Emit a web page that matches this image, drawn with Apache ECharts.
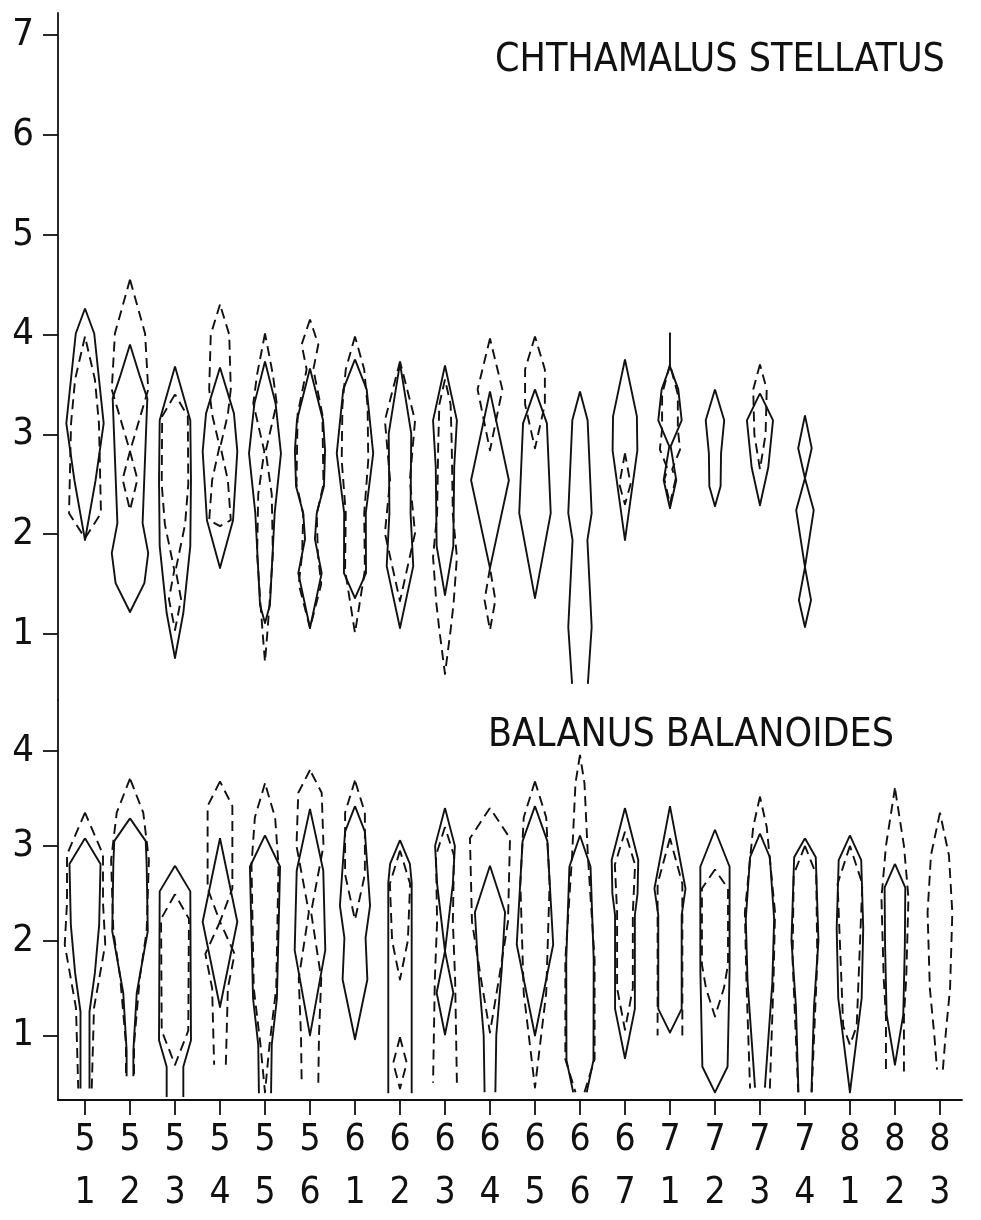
<!DOCTYPE html>
<html><head><meta charset="utf-8">
<script src="https://cdn.jsdelivr.net/npm/echarts@6/dist/echarts.min.js"></script>
<style>html,body{margin:0;padding:0;background:#fff}#c{width:981px;height:1220px}</style>
</head><body><div id="c"></div><script>
// sampling occasions (year digit over month digit)
const samples = ['51','52','53','54','55','56','61','62','63','64','65','66','67','71','72','73','74','81','82','83'];
const yTicksUpper = [1,2,3,4,5,6,7];
const yTicksLower = [1,2,3,4];
const titleUpper = 'CHTHAMALUS STELLATUS';
const titleLower = 'BALANUS BALANOIDES';

// Each column: list of kite pieces; each piece: [shore level, abundance] from top to bottom.
// A piece whose last abundance is > 0 is open at the bottom.
const chthSolid = [
  [[[4.26,0],[4.01,4.1],[3.11,8.3],[2.54,4.7],[1.94,0]]],
  [[[3.90,0],[3.58,4.4],[3.36,7.7],[2.11,5.6],[1.81,8.1],[1.51,6.4],[1.22,0]]],
  [[[3.68,0],[3.14,6.8],[2.54,7.1],[1.88,6.8],[1.21,3.7],[0.76,0]]],
  [[[3.67,0],[3.21,6.2],[2.83,7.7],[2.14,5.8],[1.66,0]]],
  [[[3.73,0],[3.31,4.7],[2.81,7.1],[2.21,4.3],[1.29,2.2],[1.11,0]]],
  [[[3.66,0],[3.14,5.8],[2.84,6.7],[2.48,6.2],[2.21,3.0],[1.95,2.2],[1.61,5.2],[1.06,0]]],
  [[[3.75,0],[3.45,5.2],[2.81,8.1],[2.21,4.8],[1.61,4.9],[1.36,0]]],
  [[[3.71,0],[3.01,5.0],[2.21,4.7],[1.68,5.9],[1.06,0]]],
  [[[3.69,0],[3.14,5.3],[2.67,4.1],[1.88,3.7],[1.39,0]]],
  [[[3.43,0],[2.54,8.4],[1.66,0]]],
  [[[3.45,0],[3.11,5.3],[2.21,7.0],[1.36,0]]],
  [[[3.43,0],[3.14,3.4],[2.21,5.2],[1.94,3.3],[1.07,5.2],[0.50,3.5]]],
  [[[3.75,0],[3.18,5.3],[2.84,5.5],[1.94,0]]],
  [[[4.02,0],[3.68,0],[3.45,3.7],[3.14,5.2],[2.88,0.3],[2.54,2.8],[2.26,0]]],
  [[[3.45,0],[3.14,4.1],[2.81,2.7],[2.48,2.5],[2.28,0]]],
  [[[3.41,0],[3.14,5.8],[2.67,3.7],[2.29,0]]],
  [[[3.19,0],[2.86,3.0],[2.56,0],[2.24,3.9],[1.67,0],[1.34,2.7],[1.07,0]]],
  [], [], []
];
const chthDashed = [
  [[[3.98,0],[3.55,4.4],[3.11,6.2],[2.21,7.1],[1.96,0]]],
  [[[4.55,0],[4.01,6.7],[3.45,8.1],[2.83,0],[2.55,3.3],[2.24,0]]],
  [[[3.40,0],[3.18,5.7],[2.50,5.9],[2.10,4.5],[1.64,0.3],[1.35,2.7],[1.04,0]]],
  [[[4.30,0],[4.00,4.1],[3.45,4.8],[3.20,3.5],[2.88,0.2],[2.54,3.5],[2.14,4.8],[2.08,0]]],
  [[[4.01,0],[3.60,3.5],[3.31,5.2],[2.83,0.3],[2.40,3.0],[1.80,3.5],[1.30,2.0],[1.00,1.0],[0.72,0]]],
  [[[4.15,0],[3.90,3.7],[3.65,1.5],[3.20,5.5],[2.50,6.0],[2.20,3.0],[1.80,3.5],[1.50,5.0],[1.06,0]]],
  [[[3.98,0],[3.65,4.1],[3.28,5.6],[2.74,5.9],[2.21,4.1],[1.64,4.4],[1.01,0]]],
  [[[3.73,0],[3.14,6.7],[2.54,4.4],[2.01,6.7],[1.33,0]]],
  [[[3.55,0],[3.30,2.5],[2.90,3.0],[2.20,3.5],[1.77,5.3],[1.30,3.8],[1.04,2.5],[0.60,0]]],
  [[[3.96,0],[3.45,5.5],[2.84,0]], [[1.66,0],[1.34,2.4],[1.04,0]]],
  [[[3.98,0],[3.65,4.4],[3.30,4.4],[2.86,0]]],
  [],
  [[[2.81,0],[2.50,2.5],[2.30,0]]],
  [[[3.70,0],[3.40,3.5],[3.05,3.5],[2.85,4.5],[2.65,1.0],[2.55,2.5],[2.30,0]]],
  [],
  [[[3.70,0],[3.45,3.0],[3.00,2.5],[2.65,0]]],
  [], [], [], []
];
const balSolid = [
  [[[3.08,0],[2.81,6.9],[2.17,6.3],[1.66,4.4],[1.25,2.0],[0.44,2.0]]],
  [[[3.29,0],[3.05,7.0],[2.81,7.4],[2.10,7.9],[1.45,3.0],[0.84,1.5],[0.57,1.5]]],
  [[[2.79,0],[2.52,6.8],[0.95,7.1],[0.67,3.7],[0.35,3.7]]],
  [[[3.08,0],[2.20,7.7],[1.30,0]]],
  [[[3.11,0],[2.78,6.7],[1.39,5.3],[0.90,3.0],[0.39,2.7]]],
  [[[3.39,0],[2.74,5.9],[1.90,6.8],[1.00,0]]],
  [[[3.42,0],[3.15,4.4],[2.37,6.7],[2.03,4.7],[1.59,5.5],[0.96,0]]],
  [[[3.06,0],[2.81,4.4],[2.61,5.2],[0.39,5.2]]],
  [[[3.40,0],[3.00,4.4],[2.60,3.5],[1.89,0],[1.45,3.7],[1.01,0]]],
  [[[2.79,0],[2.30,6.7],[1.69,5.2],[1.00,2.8],[0.40,2.4]]],
  [[[3.42,0],[3.05,5.5],[1.96,8.1],[1.00,0]]],
  [[[3.11,0],[2.78,4.7],[1.80,6.1],[0.74,6.0],[0.40,3.0]]],
  [[[3.40,0],[2.85,5.9],[2.50,5.6],[2.27,4.4],[1.28,4.4],[0.76,0]]],
  [[[3.42,0],[2.55,6.9],[2.27,5.2],[1.28,5.2],[1.03,0]]],
  [[[3.17,0],[2.78,6.5],[1.69,6.5],[0.67,5.6],[0.40,0]]],
  [[[3.13,0],[2.88,4.4],[2.23,6.3],[1.56,5.5],[0.45,2.2]]],
  [[[3.08,0],[2.88,4.8],[2.00,6.0],[1.30,4.0],[0.40,2.9]]],
  [[[3.11,0],[2.85,5.0],[2.13,5.9],[1.39,5.2],[0.40,0]]],
  [[[2.81,0],[2.56,4.6],[1.96,4.4],[1.22,3.7],[0.69,0]]],
  []
];
const balDashed = [
  [[[3.35,0],[2.91,8.0],[2.40,8.0],[1.96,9.0],[1.29,4.0],[0.44,3.0]]],
  [[[3.71,0],[3.35,5.9],[2.85,8.4],[2.10,7.4],[1.62,4.4],[0.91,1.8],[0.59,1.8]]],
  [[[2.49,0],[2.23,6.2],[1.05,5.9],[0.69,0]]],
  [[[3.68,0],[3.42,5.5],[2.55,5.5],[2.20,0],[1.86,6.5],[1.50,3.5],[0.69,2.6]]],
  [[[3.66,0],[3.30,4.5],[2.80,6.0],[1.50,5.0],[0.90,2.0],[0.40,0]]],
  [[[3.80,0],[3.56,5.2],[3.00,6.0],[2.30,0.5],[1.60,5.0],[1.00,4.0],[0.50,3.7]]],
  [[[3.69,0],[3.35,4.4],[2.70,4.4],[2.22,0]]],
  [[[2.95,0],[2.60,4.5],[2.00,3.5],[1.59,0]], [[0.98,0],[0.71,3.0],[0.44,0]]],
  [[[3.20,0],[2.90,4.0],[2.20,3.5],[1.60,4.5],[0.50,5.3]]],
  [[[3.40,0],[3.08,8.9],[2.20,8.0],[1.60,4.0],[1.03,0]]],
  [[[3.68,0],[3.30,5.0],[2.60,6.5],[1.45,5.0],[0.45,0]]],
  [[[3.96,0],[3.66,2.0],[2.90,3.5],[1.80,6.5],[0.75,6.5],[0.40,2.0]]],
  [[[3.15,0],[2.80,4.5],[2.30,3.5],[1.50,3.5],[1.06,0]]],
  [[[3.08,0],[2.60,5.5],[2.00,5.5],[1.00,5.5]]],
  [[[2.75,0],[2.55,5.8],[1.75,5.8],[1.50,4.0],[1.20,0]]],
  [[[3.52,0],[3.20,3.0],[2.30,6.7],[1.56,6.0],[0.44,4.4]]],
  [[[3.00,0],[2.70,5.0],[1.80,5.5],[0.40,3.0]]],
  [[[3.00,0],[2.60,5.5],[1.70,4.0],[1.10,3.0],[0.90,0]]],
  [[[3.61,0],[3.00,4.0],[2.45,6.0],[1.60,5.0],[1.20,4.0],[0.62,4.0]]],
  [[[3.35,0],[2.90,4.0],[2.30,5.5],[1.50,4.5],[1.00,2.5],[0.64,1.3]]]
];

const INK = '#111111';
const FONT = "'DejaVu Sans Condensed', 'Liberation Sans Narrow', 'DejaVu Sans', sans-serif";
const WIDTH_SCALE = 0.05; // abundance unit -> x-axis units (half width)
const colIdx = samples.map((s, i) => i);

function kiteSeries(profiles, gi, dashed) {
  return {
    type: 'custom', xAxisIndex: gi, yAxisIndex: gi, silent: true, clip: false,
    encode: { x: 0, y: 1 },
    data: profiles.map((p, i) => [i, 2]),
    renderItem(params, api) {
      const col = api.value(0);
      const pieces = profiles[params.dataIndex];
      const children = [];
      const style = { stroke: INK, lineWidth: 1.9, fill: null, lineDash: dashed ? [10, 6] : null, lineJoin: 'round' };
      pieces.forEach(pairs => {
        const left = pairs.map(([y, w]) => api.coord([col - w * WIDTH_SCALE, y]));
        const right = pairs.map(([y, w]) => api.coord([col + w * WIDTH_SCALE, y])).reverse();
        const open = pairs[pairs.length - 1][1] > 0;
        if (open) {
          children.push({ type: 'polyline', shape: { points: left }, style });
          children.push({ type: 'polyline', shape: { points: right }, style });
        } else {
          children.push({ type: 'polyline', shape: { points: left.concat(right.slice(1)) }, style });
        }
      });
      return { type: 'group', children };
    }
  };
}

const axisLineStyle = { color: INK, width: 1.8 };
function yAxisDef(gi, min, max, ticks) {
  return {
    gridIndex: gi, type: 'value', min, max,
    axisLine: { show: true, onZero: false, lineStyle: axisLineStyle },
    axisTick: { show: true, customValues: ticks, length: 15, lineStyle: axisLineStyle },
    axisLabel: { customValues: ticks, margin: 24, fontSize: 38, color: INK, fontFamily: FONT },
    splitLine: { show: false }
  };
}

const chart = echarts.init(document.getElementById('c'), null, { renderer: 'canvas' });
chart.setOption({
  backgroundColor: '#fff',
  animation: false,
  grid: [
    { left: 58, right: 19, top: 13, height: 687 },
    { left: 58, right: 19, top: 700, height: 415 }
  ],
  xAxis: [
    { gridIndex: 0, type: 'value', min: -0.6, max: 19.49, show: false },
    {
      gridIndex: 1, type: 'value', min: -0.6, max: 19.49,
      axisLine: { show: true, onZero: false, lineStyle: axisLineStyle },
      axisTick: { show: true, customValues: colIdx, length: 15, lineStyle: axisLineStyle },
      axisLabel: {
        customValues: colIdx, margin: 14, fontSize: 37, lineHeight: 53, color: INK, fontFamily: FONT,
        formatter: v => { const s = samples[Math.round(v)]; return s ? s[0] + '\n' + s[1] : ''; }
      },
      splitLine: { show: false }
    }
  ],
  yAxis: [
    yAxisDef(0, 0.339, 7.22, yTicksUpper),
    yAxisDef(1, 0.319, 4.539, yTicksLower)
  ],
  graphic: [
    { type: 'text', style: { text: titleUpper, x: 495, y: 61, verticalAlign: 'middle', align: 'left', font: "39px " + FONT, fill: INK } },
    { type: 'text', style: { text: titleLower, x: 488, y: 736, verticalAlign: 'middle', align: 'left', font: "39px " + FONT, fill: INK } }
  ],
  series: [
    kiteSeries(chthSolid, 0, false),
    kiteSeries(chthDashed, 0, true),
    kiteSeries(balSolid, 1, false),
    kiteSeries(balDashed, 1, true)
  ]
});
</script></body></html>
